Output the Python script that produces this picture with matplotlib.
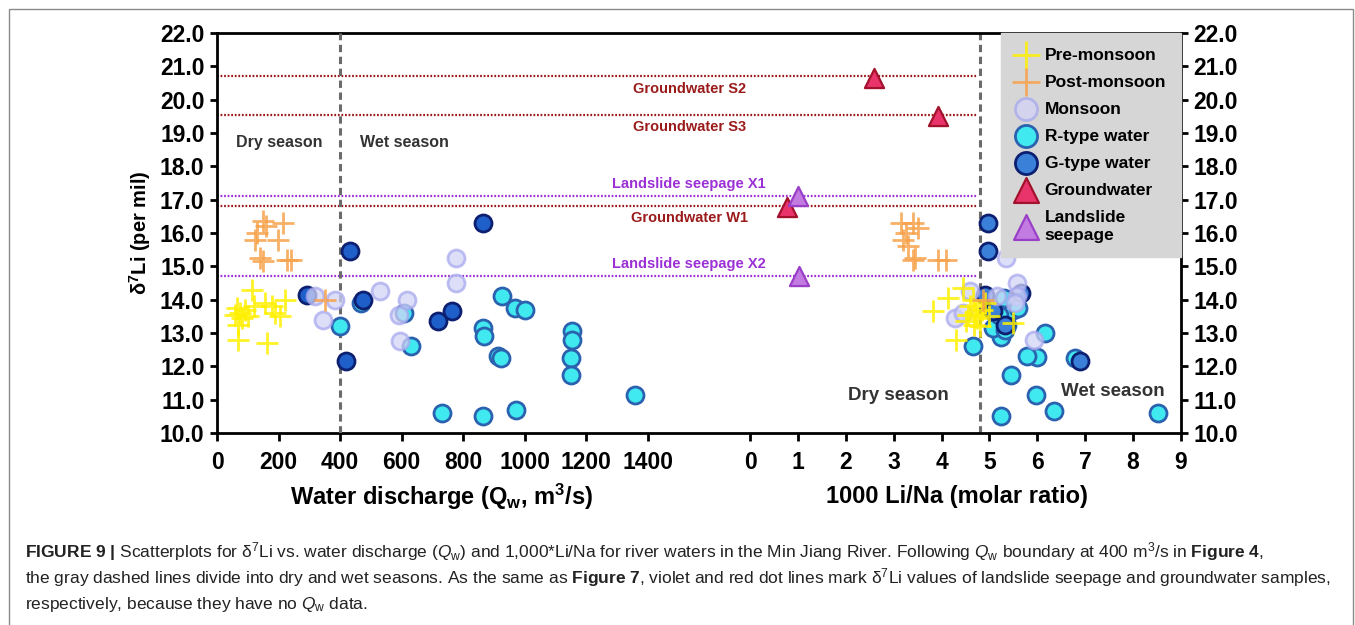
import matplotlib
matplotlib.use("Agg")
import matplotlib.pyplot as plt
from matplotlib import font_manager
from matplotlib.patches import Rectangle

# --- data: left half, water discharge Qw (m3/s) vs d7Li -------------------
pre_qw = [58, 64, 69, 75, 80, 91, 102, 113, 120, 69, 161, 156, 178, 188, 205, 221]
pre_d7_q = [13.55, 13.75, 13.25, 13.6, 13.45, 13.7, 13.5, 14.3, 13.8, 12.8,
            12.7, 13.9, 13.8, 13.6, 13.5, 14.0]
post_qw = [150, 160, 215, 123, 130, 199, 140, 150, 226, 242, 351]
post_d7_q = [16.35, 16.2, 16.3, 15.8, 16.0, 15.8, 15.25, 15.15, 15.2, 15.2, 14.0]
mon_qw = [318, 345, 383, 529, 592, 618, 594, 778, 778]
mon_d7_q = [14.1, 13.4, 14.0, 14.25, 13.55, 14.0, 12.75, 15.25, 14.5]
r_qw = [399, 468, 607, 632, 730, 865, 868, 865, 914, 924, 928, 968, 1000,
        971, 1154, 1154, 1152, 1152, 1360]
r_d7_q = [13.2, 13.9, 13.6, 12.6, 10.6, 13.15, 12.9, 10.5, 12.3, 12.25, 14.1,
          13.75, 13.7, 10.7, 13.05, 12.8, 12.25, 11.75, 11.13]
g_qw = [291, 421, 432, 865, 475, 719, 764]
g_d7_q = [14.15, 12.15, 15.47, 16.3, 14.0, 13.35, 13.65]

# --- data: right half, 1000 Li/Na vs d7Li -----------------------------------
pre_lina = [3.83, 4.14, 4.3, 4.45, 4.5, 4.6, 4.65, 4.7, 4.75, 4.8, 4.85, 4.9,
            4.55, 4.68, 5.0, 5.5]
pre_d7_l = [13.65, 14.05, 12.8, 14.35, 13.35, 13.8, 14.0, 13.6, 13.45, 13.2,
            13.7, 13.9, 13.55, 13.25, 13.5, 13.3]
post_lina = [3.15, 3.4, 3.5, 3.25, 3.2, 3.3, 3.45, 3.4, 3.93, 4.1, 4.87]
post_d7_l = [16.3, 16.3, 16.15, 16.0, 15.8, 15.6, 15.25, 15.2, 15.2, 15.2, 14.0]
mon_lina = [4.28, 4.45, 4.59, 5.15, 5.35, 5.57, 5.57, 5.53, 5.92]
mon_d7_l = [13.45, 13.6, 14.25, 14.1, 15.25, 14.5, 14.1, 13.9, 12.8]
r_lina = [4.66, 5.25, 5.46, 5.97, 6.35, 8.53, 6.16, 5.99, 5.78, 6.78, 5.25,
          5.08, 5.36, 5.5, 5.08, 5.3, 5.2, 5.6, 5.32]
r_d7_l = [12.6, 10.5, 11.75, 11.13, 10.67, 10.6, 13.0, 12.27, 12.32, 12.25,
          12.87, 13.15, 13.25, 13.7, 13.7, 14.05, 13.55, 13.75, 13.1]
g_lina = [4.98, 4.96, 6.89, 4.9, 5.08, 5.65, 5.32]
g_d7_l = [16.3, 15.47, 12.15, 14.15, 13.65, 14.2, 13.25]
gw_lina = [2.58, 3.93, 0.77]
gw_d7 = [20.65, 19.5, 16.78]
ls_lina = [1.01, 1.03]
ls_d7 = [17.1, 14.7]

# reference lines (samples without Qw)
gw_lines = [20.7, 19.55, 16.82]
gw_names = ["Groundwater S2", "Groundwater S3", "Groundwater W1"]
ls_lines = [17.1, 14.7]
ls_names = ["Landslide seepage X1", "Landslide seepage X2"]

qw_ticks = [0, 200, 400, 600, 800, 1000, 1200, 1400]
lina_ticks = list(range(10))
y_ticks = list(range(10, 23))

QW_BOUND = 400
LINA_BOUND = 4.8

# fonts
names = {f.name for f in font_manager.fontManager.ttflist}
NARROW = "Liberation Sans Narrow" if "Liberation Sans Narrow" in names else "Liberation Sans"
plt.rcParams["font.family"] = ["Liberation Sans", "DejaVu Sans"]
plt.rcParams["mathtext.fontset"] = "custom"
plt.rcParams["mathtext.rm"] = NARROW
plt.rcParams["mathtext.bf"] = NARROW + ":bold"
plt.rcParams["mathtext.it"] = NARROW + ":italic"

C_PRE = "#FFF000"
C_POST = "#F7A24B"
C_MON_F, C_MON_E = "#D2D3F6", "#A8A9EE"
C_R_F, C_R_E = "#40E8F0", "#2A62B0"
C_G_F, C_G_E = "#1E5FCA", "#0C1F70"
C_GW_F, C_GW_E = "#E8336B", "#A3122C"
C_LS_F, C_LS_E = "#C27BE0", "#9A40C8"
C_GW_LINE = "#9B1B1B"
C_LS_LINE = "#9B30D6"

fig = plt.figure(figsize=(13.55, 6.25), dpi=100)
ax = fig.add_axes([217 / 1355, 1 - 433 / 625, (1181 - 217) / 1355, 400 / 625])
ax.set_xlim(-11.13, 9)
ax.set_ylim(10, 22)
axq = ax.twiny()
axq.set_xlim(0, 3134)
axq.xaxis.set_ticks_position("bottom")
for s in axq.spines.values():
    s.set_visible(False)

for s in ax.spines.values():
    s.set_linewidth(2.0)

# dashed season boundaries
axq.axvline(QW_BOUND, color="#6b6b6b", lw=2.2, ls=(0, (2.4, 1.5)), zorder=1)
ax.axvline(LINA_BOUND, color="#6b6b6b", lw=2.2, ls=(0, (2.4, 1.5)), zorder=1)

# dotted reference lines
for yv, nm in zip(gw_lines, gw_names):
    ax.hlines(yv, -11.13, 4.75, color=C_GW_LINE, lw=1.6, ls=(0, (0.8, 0.8)), zorder=1)
    ax.annotate(nm, xy=(-1.27, yv), xytext=(0, -9), textcoords="offset points",
                ha="center", va="center", fontsize=10.5, fontweight="bold", color=C_GW_LINE)
for yv, nm in zip(ls_lines, ls_names):
    ax.hlines(yv, -11.13, 4.75, color=C_LS_LINE, lw=1.6, ls=(0, (0.8, 0.8)), zorder=1)
    ax.annotate(nm, xy=(-1.27, yv), xytext=(0, 9), textcoords="offset points",
                ha="center", va="center", fontsize=10.5, fontweight="bold", color=C_LS_LINE)

circ = dict(s=150, linewidths=2.0, zorder=3)
plus = dict(s=240, linewidths=2.0, marker="+", zorder=4)
tri = dict(s=190, linewidths=1.6, marker="^", zorder=4)

# left half (Qw)
axq.scatter(r_qw, r_d7_q, c=C_R_F, edgecolors=C_R_E, **circ)
axq.scatter(g_qw, g_d7_q, c=C_G_F, edgecolors=C_G_E, **circ)
axq.scatter(mon_qw, mon_d7_q, c=C_MON_F, edgecolors=C_MON_E, alpha=0.75, **circ)
axq.scatter(pre_qw, pre_d7_q, c=C_PRE, alpha=0.85, **plus)
axq.scatter(post_qw, post_d7_q, c=C_POST, alpha=0.85, **plus)

# right half (Li/Na)
h_r = ax.scatter(r_lina, r_d7_l, c=C_R_F, edgecolors=C_R_E, label="R-type water", **circ)
h_g = ax.scatter(g_lina, g_d7_l, c="#3A7FD8", edgecolors=C_G_E, label="G-type water", **circ)
h_m = ax.scatter(mon_lina, mon_d7_l, c=C_MON_F, edgecolors=C_MON_E, alpha=0.75,
                 label="Monsoon", **circ)
h_pre = ax.scatter(pre_lina, pre_d7_l, c=C_PRE, alpha=0.85, label="Pre-monsoon", **plus)
h_post = ax.scatter(post_lina, post_d7_l, c=C_POST, alpha=0.85, label="Post-monsoon", **plus)
h_gw = ax.scatter(gw_lina, gw_d7, c=C_GW_F, edgecolors=C_GW_E, label="Groundwater", **tri)
h_ls = ax.scatter(ls_lina, ls_d7, c=C_LS_F, edgecolors=C_LS_E, label="Landslide\nseepage", **tri)

# season labels
axq.text(201, 18.7, "Dry season", ha="center", va="center", fontsize=11.5,
         fontweight="bold", color="#333333")
axq.text(608, 18.7, "Wet season", ha="center", va="center", fontsize=11.5,
         fontweight="bold", color="#333333")
ax.text(3.09, 11.12, "Dry season", ha="center", va="center", fontsize=13.5,
        fontweight="bold", color="#333333")
ax.text(7.58, 11.25, "Wet season", ha="center", va="center", fontsize=13.5,
        fontweight="bold", color="#333333")

# ticks
ax.set_yticks(y_ticks)
ax.set_yticklabels([f"{v:.1f}" for v in y_ticks])
ax.set_xticks(lina_ticks)
axq.set_xticks(qw_ticks)
ax.tick_params(axis="y", which="both", left=True, right=True, labelleft=True,
               labelright=True, direction="out", length=5, width=2.0, pad=4,
               labelsize=16.5)
for lab in ax.get_yticklabels():
    lab.set_fontweight("bold")
for a in (ax, axq):
    a.tick_params(axis="x", direction="out", length=6, width=2.0, pad=7, labelsize=16.5)
    for lab in a.get_xticklabels():
        lab.set_fontweight("bold")
        lab.set_family(NARROW)

ax.set_ylabel(r"δ$^{\mathbf{7}}$Li (per mil)", fontsize=14.5, fontweight="bold", labelpad=5)
ax.text(0.233, -0.16, r"Water discharge (Q$_{\mathbf{w}}$, m$^{\mathbf{3}}$/s)",
        transform=ax.transAxes, ha="center", va="center", fontsize=17,
        fontweight="bold", family=NARROW)
ax.text(0.768, -0.16, "1000 Li/Na (molar ratio)", transform=ax.transAxes,
        ha="center", va="center", fontsize=17, fontweight="bold", family=NARROW)

leg = axq.legend(handles=[h_pre, h_post, h_m, h_r, h_g, h_gw, h_ls],
                 loc="upper right", borderaxespad=0, fontsize=12.5,
                 frameon=True, fancybox=False, framealpha=1, markerscale=1.3,
                 labelspacing=0.68, handletextpad=0.46, borderpad=0.85,
                 handlelength=1.2)
leg.get_frame().set_facecolor("#D6D6D6")
leg.get_frame().set_edgecolor("#D6D6D6")
for t in leg.get_texts():
    t.set_fontweight("bold")
    t.set_linespacing(1.25)

# caption
cap = [
    r"$\mathbf{FIGURE\ 9\ |}$ Scatterplots for δ$^{7}$Li vs. water discharge ($\mathit{Q}_{\mathrm{w}}$) "
    r"and 1,000*Li/Na for river waters in the Min Jiang River. Following $\mathit{Q}_{\mathrm{w}}$ "
    r"boundary at 400 m$^{3}$/s in $\mathbf{Figure\ 4}$,",
    r"the gray dashed lines divide into dry and wet seasons. As the same as $\mathbf{Figure\ 7}$, "
    r"violet and red dot lines mark δ$^{7}$Li values of landslide seepage and groundwater samples,",
    r"respectively, because they have no $\mathit{Q}_{\mathrm{w}}$ data.",
]
for i, line in enumerate(cap):
    fig.text(25 / 1355, 1 - (552 + 26 * i) / 625, line, ha="left", va="center",
             fontsize=12.5, family=NARROW, color="#222222")

fig.add_artist(Rectangle((9 / 1355, -0.05), (1353 - 9) / 1355, 1.05 - 9 / 625,
                         transform=fig.transFigure, fill=False, edgecolor="#8a8a8a",
                         lw=1.0))

fig.savefig("out.png", dpi=100)
